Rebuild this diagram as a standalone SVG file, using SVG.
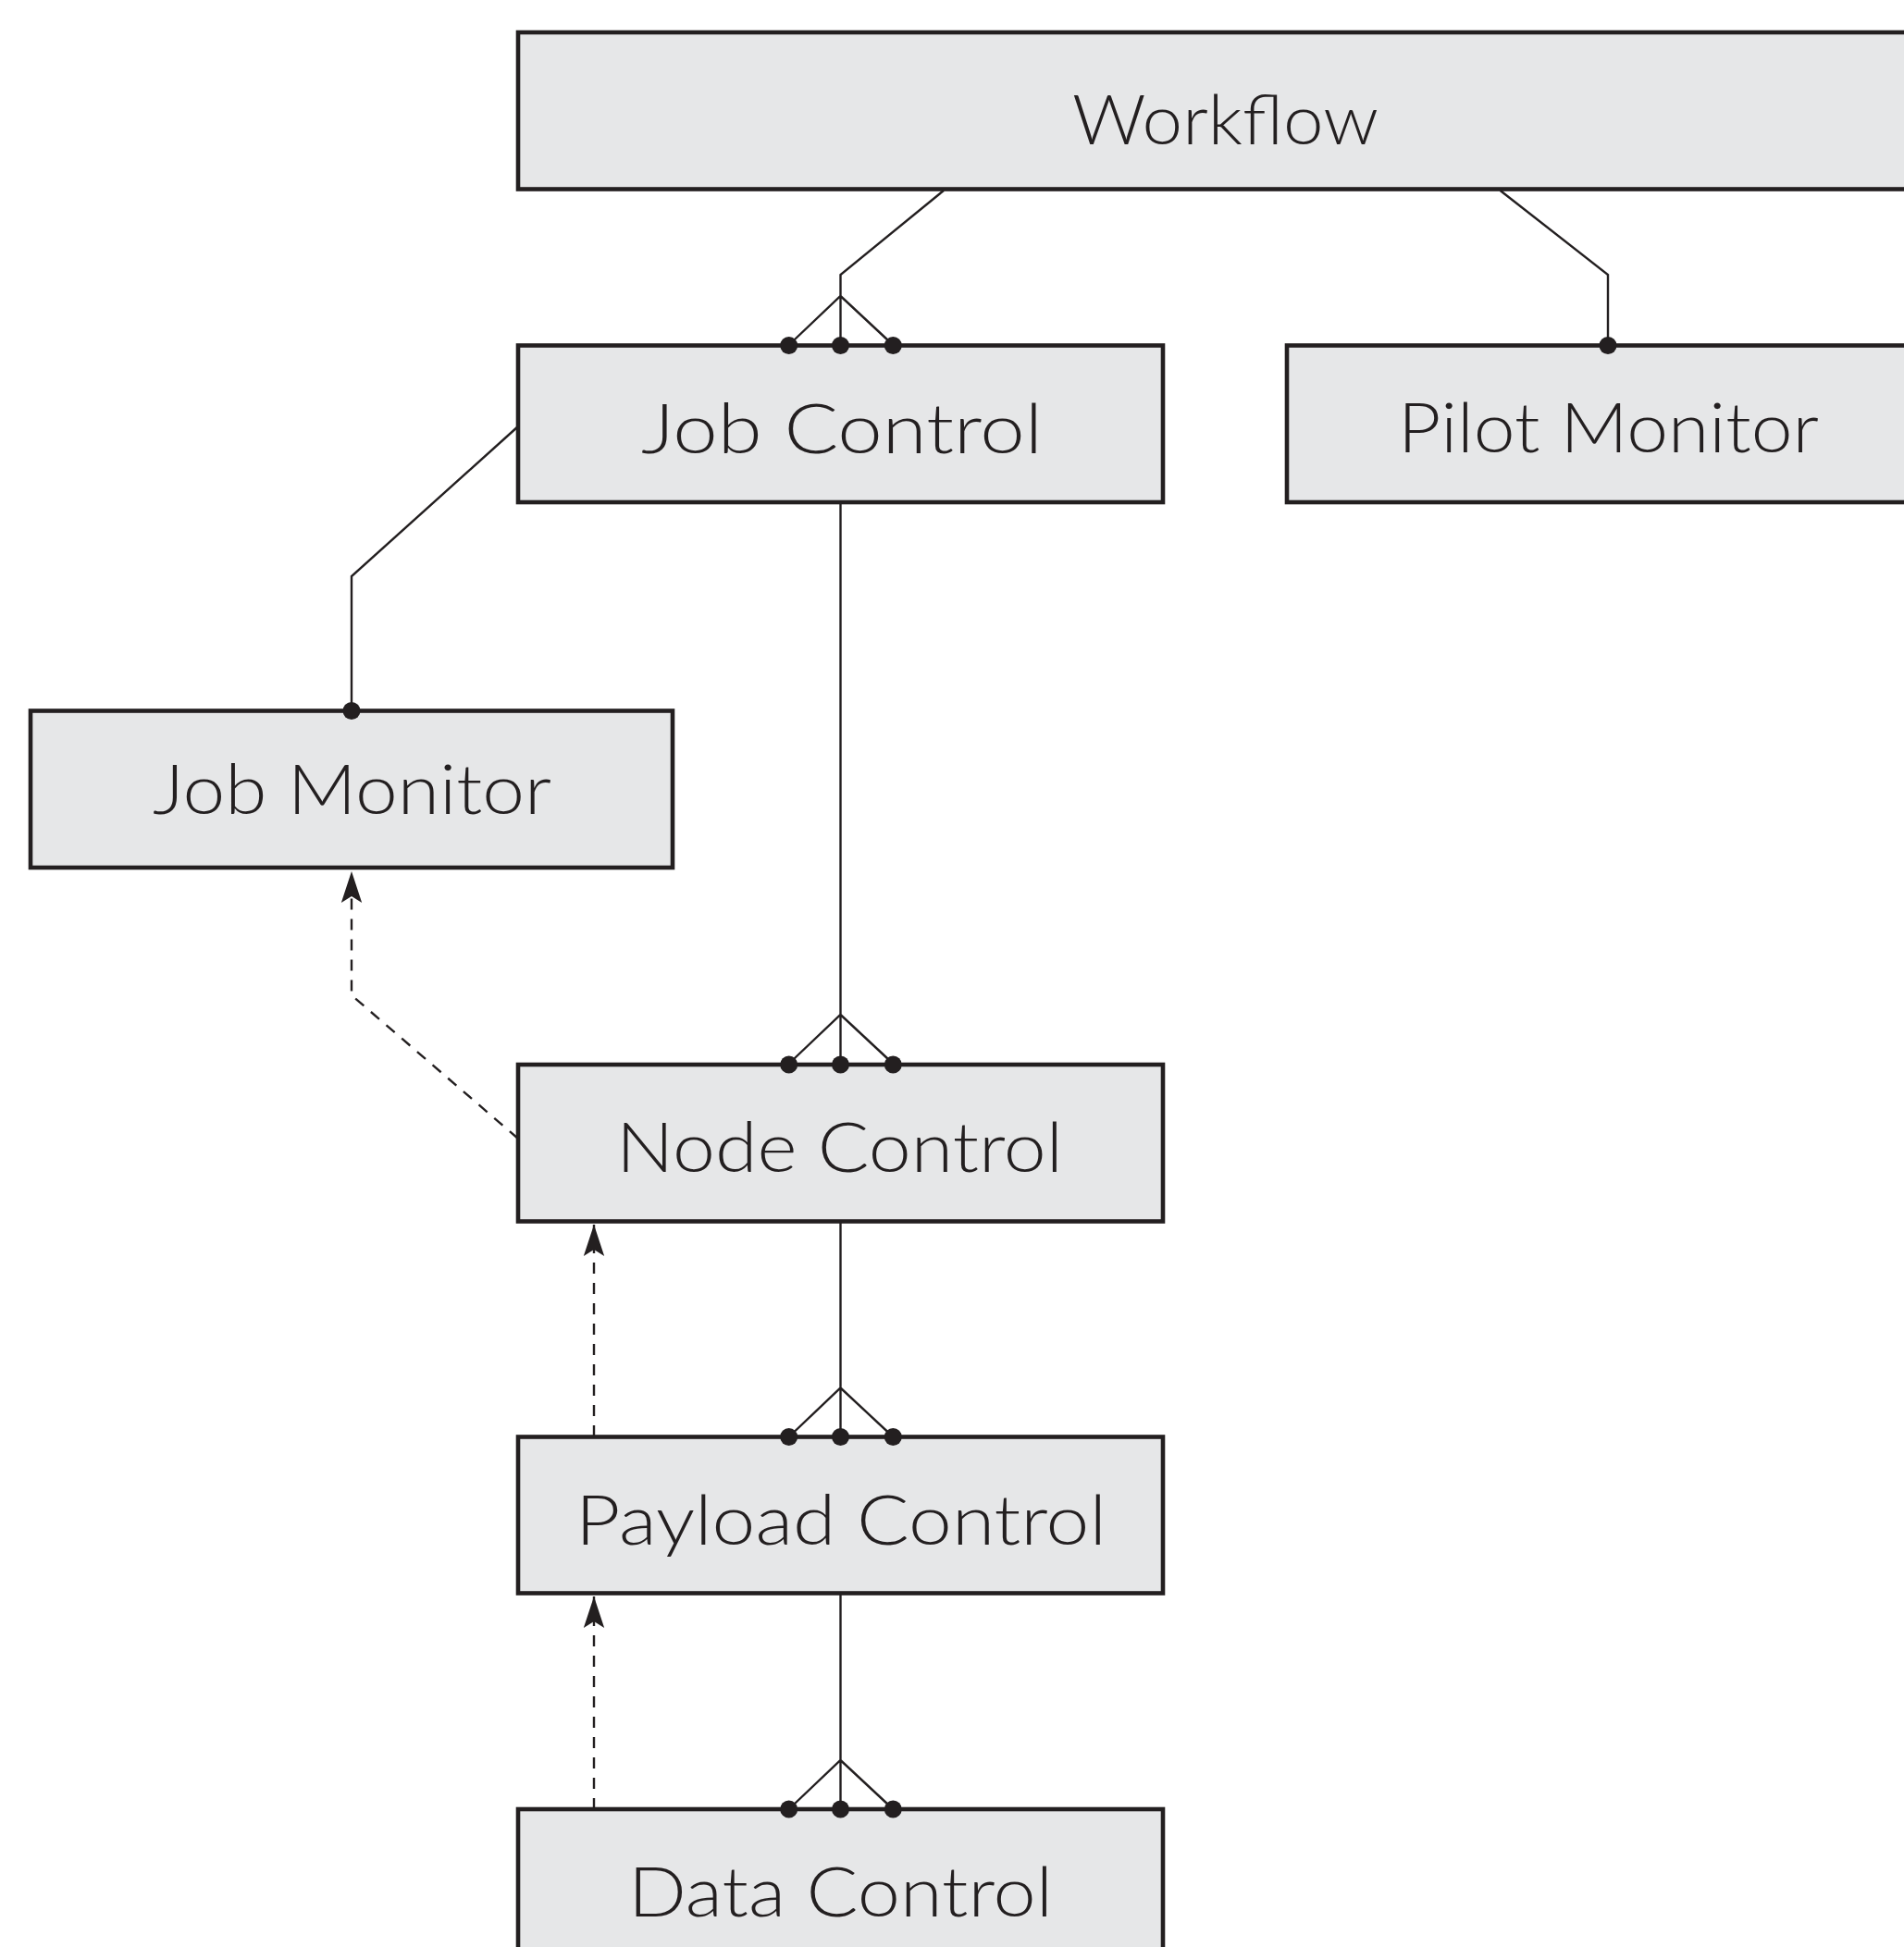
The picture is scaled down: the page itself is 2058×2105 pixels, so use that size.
<svg xmlns="http://www.w3.org/2000/svg" width="2058" height="2105" viewBox="0 0 2058 2105">
<style>
.box{fill:#e6e7e8;stroke:#231f20;stroke-width:4.6}
.lbl{font-family:Lato,"Noto Sans","Liberation Sans",sans-serif;font-weight:300;font-size:74px;fill:#231f20}
.ln{fill:none;stroke:#231f20;stroke-width:2.4;stroke-linejoin:miter}
.dash{fill:none;stroke:#231f20;stroke-width:2.4;stroke-dasharray:12 10}
.dot{fill:#231f20}
</style>
<defs>
<marker id="arr" markerUnits="userSpaceOnUse" markerWidth="40" markerHeight="30" viewBox="-32 -12 34 24" refX="0" refY="0" orient="auto">
<path d="M0,0 L-29,-9.5 L-23,0 L-29,9.5 Z" fill="#231f20"/>
</marker>
</defs>
<rect width="2058" height="2105" fill="#ffffff"/>
<g id="connectors">
<path class="ln" d="M1020,206 L908.5,297 L908.5,373 M852.7,373 L908.5,320 L965.3,373"/>
<path class="ln" d="M1621.6,206 L1738,297 L1738,373"/>
<path class="ln" d="M560,461 L380,623 L380,768"/>
<path class="ln" d="M908.5,543 L908.5,1150 M852.7,1150 L908.5,1097 L965.3,1150"/>
<path class="ln" d="M908.5,1320 L908.5,1553.5 M852.7,1553.5 L908.5,1500.5 L965.3,1553.5"/>
<path class="ln" d="M908.5,1722 L908.5,1956 M852.7,1956 L908.5,1903 L965.3,1956"/>
<path class="dash" d="M560,1231 L380,1076 L380,942" marker-end="url(#arr)"/>
<path class="dash" d="M642,1553 L642,1324" marker-end="url(#arr)"/>
<path class="dash" d="M642,1956 L642,1726" marker-end="url(#arr)"/>
</g>
<g id="node-workflow">
<rect class="box" x="560" y="35" width="1540" height="169.5"/>
<text class="lbl" x="1159" y="156" textLength="331" lengthAdjust="spacingAndGlyphs">Workflow</text>
</g>
<g id="node-jobcontrol">
<rect class="box" x="560" y="373.5" width="697" height="169.5"/>
<text class="lbl" x="693" y="490" textLength="434" lengthAdjust="spacingAndGlyphs">Job Control</text>
</g>
<g id="node-pilotmonitor">
<rect class="box" x="1391" y="373.5" width="697" height="169.5"/>
<text class="lbl" x="1511" y="488.5" textLength="455" lengthAdjust="spacingAndGlyphs">Pilot Monitor</text>
</g>
<g id="node-jobmonitor">
<rect class="box" x="33" y="768.5" width="694" height="169.5"/>
<text class="lbl" x="165" y="880" textLength="431" lengthAdjust="spacingAndGlyphs">Job Monitor</text>
</g>
<g id="node-nodecontrol">
<rect class="box" x="560" y="1151" width="697" height="169.5"/>
<text class="lbl" x="666" y="1267" textLength="483" lengthAdjust="spacingAndGlyphs">Node Control</text>
</g>
<g id="node-payloadcontrol">
<rect class="box" x="560" y="1553.5" width="697" height="169"/>
<text class="lbl" x="622" y="1670" textLength="574" lengthAdjust="spacingAndGlyphs">Payload Control</text>
</g>
<g id="node-datacontrol">
<rect class="box" x="560" y="1956" width="697" height="169.5"/>
<text class="lbl" x="679" y="2072" textLength="459" lengthAdjust="spacingAndGlyphs">Data Control</text>
</g>
<g id="dots">
<circle class="dot" cx="852.7" cy="373.5" r="9.5"/><circle class="dot" cx="908.5" cy="373.5" r="9.5"/><circle class="dot" cx="965.3" cy="373.5" r="9.5"/>
<circle class="dot" cx="1738" cy="373.5" r="9.5"/>
<circle class="dot" cx="380" cy="768.5" r="9.5"/>
<circle class="dot" cx="852.7" cy="1151" r="9.5"/><circle class="dot" cx="908.5" cy="1151" r="9.5"/><circle class="dot" cx="965.3" cy="1151" r="9.5"/>
<circle class="dot" cx="852.7" cy="1553.5" r="9.5"/><circle class="dot" cx="908.5" cy="1553.5" r="9.5"/><circle class="dot" cx="965.3" cy="1553.5" r="9.5"/>
<circle class="dot" cx="852.7" cy="1956" r="9.5"/><circle class="dot" cx="908.5" cy="1956" r="9.5"/><circle class="dot" cx="965.3" cy="1956" r="9.5"/>
</g>
</svg>
